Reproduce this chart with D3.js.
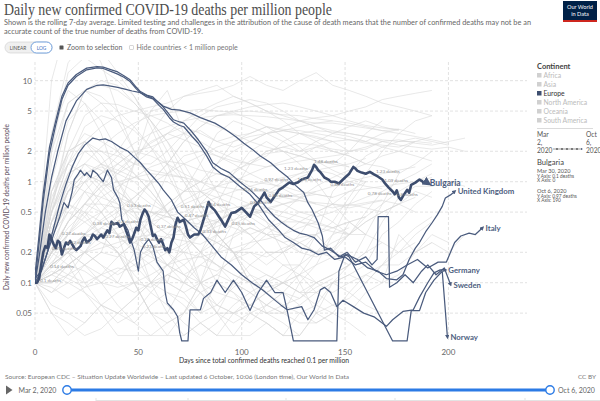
<!DOCTYPE html>
<html><head><meta charset="utf-8">
<script src="https://cdn.jsdelivr.net/npm/d3@7"></script>
<style>body{margin:0;background:#fff;} svg{display:block;font-family:Lato,"Noto Sans",sans-serif;}</style>
</head><body><svg id="c" width="600" height="401"></svg>
<script>
// ---------------- DATA ----------------
const yTicks = [0.05, 0.1, 0.2, 0.5, 1, 2, 5, 10];
const yTickLabels = ["0.05", "0.1", "0.2", "0.5", "1", "2", "5", "10"];
const xTicks = [0, 50, 100, 150, 200];
const xTickLabels = ["0", "50", "100", "150", "200"];
const continents = ["Africa", "Asia", "Europe", "North America", "Oceania", "South America"];
const activeContinent = "Europe";

const bulgaria = [[0,0.1],[1,0.1],[2,0.11],[3,0.15],[4,0.2],[5,0.23],[6,0.22],[7,0.3],[8,0.27],[9,0.24],[10,0.22],[11,0.26],[12,0.25],[13,0.19],[14,0.22],[15,0.25],[16,0.24],[17,0.26],[18,0.24],[19,0.22],[20,0.21],[22,0.23],[23,0.26],[24,0.28],[25,0.25],[27,0.27],[28,0.3],[29,0.29],[30,0.27],[32,0.3],[33,0.28],[35,0.33],[36,0.31],[37,0.4],[38,0.38],[40,0.39],[41,0.36],[43,0.38],[44,0.33],[45,0.29],[46,0.25],[47,0.27],[49,0.35],[50,0.33],[51,0.42],[52,0.48],[53,0.53],[54,0.5],[55,0.45],[56,0.36],[57,0.29],[58,0.3],[59,0.27],[60,0.25],[61,0.27],[62,0.24],[63,0.21],[64,0.22],[65,0.2],[66,0.25],[67,0.28],[68,0.38],[69,0.44],[70,0.4],[72,0.42],[73,0.36],[74,0.3],[75,0.28],[77,0.3],[79,0.3],[80,0.33],[82,0.45],[84,0.63],[85,0.57],[87,0.52],[89,0.45],[90,0.42],[92,0.36],[93,0.4],[95,0.49],[97,0.5],[100,0.55],[102,0.5],[104,0.45],[106,0.57],[108,0.62],[110,0.72],[111,0.78],[112,0.7],[114,0.63],[116,0.72],[118,0.83],[120,0.88],[123,0.98],[125,0.95],[127,0.98],[129,1.05],[132,1.1],[134,1.3],[135,1.47],[136,1.4],[137,1.3],[138,1.25],[140,1.1],[142,1.05],[143,1.0],[145,1.0],[147,0.96],[149,1.05],[150,1.1],[152,1.2],[154,1.4],[155,1.35],[156,1.28],[158,1.23],[160,1.2],[162,1.25],[164,1.18],[166,1.12],[168,1.05],[169,0.98],[171,0.88],[173,0.8],[174,0.75],[175,0.82],[176,0.7],[177,0.66],[178,0.72],[180,0.83],[181,0.78],[182,0.93],[184,0.98],[186,1.05],[187,1.02],[188,0.98],[189,1.0],[190,0.97]];

const unitedKingdom = [[0,0.12],[2,0.3],[4,0.77],[7,2.2],[10,4],[13,7],[16,9.5],[20,11.5],[25,13.3],[30,13.8],[33,13.6],[37,12.8],[40,12.2],[43,11.2],[46,10.2],[49,8.6],[51,7.8],[54,7.2],[57,6.9],[60,6.0],[62,5.5],[65,4.6],[67,4.1],[70,3.9],[72,3.8],[76,3.1],[79,2.6],[83,2.0],[86,1.54],[90,1.35],[94,1.23],[99,1.0],[104,0.83],[109,0.66],[112,0.55],[116,0.45],[119,0.4],[122,0.36],[125,0.33],[128,0.31],[131,0.3],[135,0.28],[139,0.23],[143,0.21],[148,0.18],[151,0.19],[156,0.17],[161,0.14],[166,0.13],[170,0.11],[175,0.107],[178,0.12],[181,0.17],[184,0.22],[186,0.25],[189,0.32],[192,0.39],[194.6,0.47],[197,0.57],[198.5,0.69],[201,0.74],[203,0.8]];

const italy = [[0,0.1],[2,0.25],[4,0.65],[7,1.9],[10,3.6],[13,6.5],[16,9],[20,11],[25,12.8],[30,13.4],[33,13.2],[37,12.3],[40,11.6],[43,10.8],[46,9.8],[49,8.3],[51,7.6],[54,6.9],[57,6.6],[60,5.7],[62,5.2],[65,4.3],[67,3.9],[70,3.6],[72,3.5],[76,2.8],[79,2.4],[83,1.8],[86,1.4],[90,1.2],[94,1.1],[99,0.9],[104,0.75],[108,0.6],[110,0.52],[113,0.42],[118,0.33],[121,0.28],[125,0.25],[129,0.22],[133,0.21],[137,0.19],[141,0.2],[145,0.17],[150,0.18],[155,0.15],[160,0.16],[165,0.13],[170,0.12],[175,0.13],[180,0.15],[185,0.17],[190,0.14],[195,0.16],[199,0.16],[201,0.2],[203,0.25],[206,0.29],[210,0.31],[213,0.3],[216.5,0.35]];

const sweden = [[0,0.1],[2,0.18],[5,0.5],[8,1.1],[11,2.0],[15,4],[20,6.3],[25,8.2],[30,9.0],[33,9.1],[36,8.9],[40,8.6],[44,8.2],[47,7.9],[51,7.6],[55,7.0],[58,6.5],[62,5.6],[66,5.2],[70,5.1],[75,4.8],[80,4.3],[87,3.8],[92,3.3],[97,2.8],[101,2.4],[105,2.1],[109,1.8],[114,1.54],[118,1.3],[122,1.12],[126,0.92],[130,0.78],[132,0.62],[134,0.53],[137,0.39],[139,0.29],[140,0.21],[143,0.22],[147,0.18],[151,0.2],[155,0.16],[160,0.18],[163,0.15],[165.5,0.17],[166,0.45],[171,0.45],[171.5,0.09],[175,0.1],[179,0.12],[183,0.1],[187,0.13],[190,0.15],[194,0.12],[198,0.14],[201,0.096]];

const germany = [[0,0.1],[3,0.13],[6,0.2],[9,0.35],[12,0.6],[15,0.95],[18,1.4],[21,1.9],[24,2.3],[27,2.6],[28,2.7],[31,2.6],[34,2.65],[37,2.5],[41,2.2],[45,2.0],[48,1.75],[51,1.54],[54,1.3],[57,1.12],[60,0.95],[62,0.83],[66,0.66],[69,0.5],[73,0.42],[77,0.35],[81,0.3],[85,0.24],[90,0.18],[95,0.15],[100,0.12],[105,0.1],[110,0.085],[115,0.07],[119,0.06],[122,0.054],[129,0.058],[132,0.043],[135,0.054],[138,0.085],[140,0.09],[143,0.08],[146,0.058],[149,0.067],[154,0.058],[159,0.05],[164,0.046],[170,0.037],[173,0.043],[178,0.052],[183,0.054],[186,0.072],[190,0.1],[193,0.125],[196,0.134],[198.5,0.134]];

const norway = [[0,0.11],[3,0.13],[6,0.2],[9,0.3],[12,0.45],[14,0.62],[16,0.55],[18,0.8],[19,1.05],[21,1.2],[22,1.3],[24,1.15],[25,1.23],[27,1.1],[28,1.3],[30,1.2],[31,1.12],[33,1.0],[35,1.3],[37,1.1],[38,0.83],[40,0.7],[41,0.62],[42,0.42],[44,0.36],[45,0.33],[46,0.28],[48,0.21],[50,0.13],[51,0.2],[53,0.24],[55,0.27],[57,0.23],[59,0.16],[62,0.13],[63,0.08],[64,0.063],[67,0.054],[69,0.046],[70,0.032],[71,0.0265],[74,0.0265],[75,0.054],[80,0.054],[81.5,0.07],[85,0.08],[88,0.106],[92,0.08],[96,0.106],[100,0.08],[104,0.053],[108,0.08],[112,0.106],[116,0.08],[120,0.08],[122,0.053],[125,0.0265],[146,0.0265],[147,0.13],[150,0.19],[152,0.18],[173,0.0265],[180,0.0265],[182,0.053],[186,0.053],[189,0.08],[193,0.106],[197,0.13],[199.5,0.029]];

const highlightedNames = ["United Kingdom", "Italy", "Sweden", "Germany", "Norway"];
const highlightedSeries = [unitedKingdom, italy, sweden, germany, norway];

// Bulgaria point annotations: [day, value, text]
const bulgariaNotes = [[2.4,0.101,"0.1 deaths"],[7.3,0.14,"0.14 deaths"],[8.2,0.21,"0.21 deaths"],[13,0.3,"0.27 deaths"],[15.5,0.24,"0.22 deaths"],[28,0.37,"0.38 deaths"],[34,0.28,"0.27 deaths"],[40,0.39,"0.4 deaths"],[44.5,0.56,"0.53 deaths"],[51,0.26,"0.21 deaths"],[52,0.22,"0.23 deaths"],[59,0.35,"0.37 deaths"],[70.5,0.55,"0.51 deaths"],[72.5,0.45,"0.47 deaths"],[83,0.58,"0.64 deaths"],[81,0.31,"0.33 deaths"],[95,0.37,"0.25 deaths"],[104,0.6,"0.6 deaths"],[101,0.81,"0.76 deaths"],[111,1.02,"0.97 deaths"],[113,0.7,"0.86 deaths"],[120.5,1.3,"1.23 deaths"],[127,1.02,"1.16 deaths"],[135,1.53,"1.48 deaths"],[143,0.91,"0.86 deaths"],[165,1.22,"1.23 deaths"],[169,1.0,"1.09 deaths"],[161,0.74,"0.78 deaths"],[175,0.72,"0.8 deaths"]];

// Background countries (grey): values sampled every grayStepDays days from day 0
const grayStepDays = 8;
const grayLines = [
 [0.1,0.4,1.2,2.5,3.5,4.5,5,5.5,6,7,7.5,8,9,11,9,8,10,12,9,8,7,6,5.5,5,4.5],
 [0.1,0.2,0.3,0.4,0.5,0.8,1.5,3,5,7,8,9,7,6,5,4.5,4,3.5,3.2,3,2.8,2.6,2.5,2.5,2.4],
 [0.1,0.3,0.8,1.5,2.2,3,3.8,4.5,4.8,5,5.2,5,4.9,5,4.8,4.6,4.5,4.2,4,3.8,3.5,3.2,3,2.8,2.6,2.4],
 [0.1,0.2,0.4,0.8,1.2,1.8,2.4,3,3.5,4,4.3,4.5,4.6,4.5,4.4,4.2,4,3.8,3.8,3.6,3.4,3.2,3.3,3],
 [0.1,0.3,1,2,1.5,1.2,1.5,2,3,4,5,6,7,6,5,4,3,2.5,2,1.8,1.5,1.4,1.2],
 [0.1,0.6,2,4.5,6,5.8,5,4.5,3.8,3,2.5,2,1.7,1.5,1.8,2.5,3,3.2,3.1,3,2.8,2.5,2.3,2.2,2.1,2.2,2],
 [0.1,0.12,0.15,0.2,0.25,0.22,0.3,0.4,0.6,0.8,1,1.5,2,2.5,3,3.5,4,4.3,4.5,5,5.5,6.5,7,7.5,8],
 [0.1,0.15,0.2,0.3,0.4,0.5,0.7,1,1.5,2.5,3.5,4.5,5,5.5,5.8,6,5.5,5,4.5,4,3.6,3.4,3.3],
 [0.1,0.8,1.5,2,2,1.8,1.5,1.5,2,3,4.5,5.5,6,6.5,6,5,4,3.5,3,2.8,2.5,2.2,2,1.8,1.6],
 [0.1,3,15,25,20,12,7,3.5,1.5,0.6,0.3,0.25,0.2,0.2,0.15,0.2,0.3,0.5,0.4,0.3,0.5,0.8,1.0,1.2,1.5],
 [0.1,2,12,17,13,10,7,4,2.5,1.2,0.6,0.3,0.2,0.1,0.08,0.1,0.15,0.3,0.8,1.2,1.8,2.2,2.5,2.7,2.5,2.3],
 [0.1,0.5,3,8,10,9,6,4,2.5,1.5,0.8,0.6,0.4,0.3,0.2,0.15,0.15,0.1,0.12,0.15,0.2,0.4,0.7,0.9,0.9,1.0,0.9],
 [0.1,1.5,6,8,7,5,3.5,2.2,1.2,0.6,0.4,0.3,0.2,0.12,0.08,0.06,0.05,0.06,0.1,0.12,0.15,0.3,0.4,0.6,0.8],
 [0.1,0.6,3,8,9,8,6,4,2,1,0.6,0.3,0.2,0.1,0.05,0.04,0.03,0.05,0.1,0.08,0.12,0.1,0.3,0.2,0.25],
 [0.1,2,6,8,6,4,2,1,0.5,0.3,0.1,0.05,0.04,0.05,0.06,0.08,0.07,0.1,0.08,0.1,0.12,0.15,0.15,0.2,0.25,0.2,0.3],
 [0.1,0.2,0.6,1.2,1.5,1.3,1.1,1,1,0.8,0.8,0.9,1,1.2,1.4,1.6,1.8,2.2,2.5,2.6,2.4,2.3,2.2,2.5,2.8],
 [0.1,0.3,0.6,1,1.2,1.5,2,2.2,2.6,3,3.2,2.5,2.8,3,3.5,3.3,3.2,3,2.8,2.6,2.5,3,3.3],
 [0.1,0.15,0.3,0.6,0.9,1,1.1,1.2,1.15,1.1,1.0,0.9,0.85,0.8,0.8,0.75,0.7,0.75,0.7,0.8,0.85,0.9,0.95,1.0,1.1],
 [0.1,0.5,1.2,1.5,1.1,0.8,0.6,0.5,0.5,0.6,0.7,0.9,1.3,1.5,2,2.2,2.4,2.3,2.1,2,2.1,2.5,2.6,2.4,2.3,2.5,2.7],
 [0.1,0.6,1.8,3,2.5,2,1.5,1.3,1.2,1.1,0.8,0.6,0.5,0.5,0.5,0.4,0.3,0.3,0.2,0.3,0.4,0.5,0.6,0.8,0.7],
 [0.1,0.5,1.5,2.5,2,1.5,1.2,0.8,0.5,0.3,0.2,0.1,0.08,0.05,0.04,0.03,0.03,0.05,0.06,0.05,0.08,0.1,0.12,0.2,0.3,0.25],
 [0.1,0.8,2,2.5,1.8,1,0.6,0.4,0.3,0.2,0.1,0.06,0.05,0.06,0.08,0.1,0.12,0.08,0.06,0.07,0.1,0.15,0.2,0.3,0.4],
 [0.1,0.2,0.4,0.6,0.6,0.55,0.5,0.5,0.45,0.4,0.45,0.4,0.35,0.3,0.35,0.4,0.4,0.38,0.35,0.4,0.45,0.6,0.8,1.0,1.2],
 [0.1,0.3,0.8,1.2,1.4,1.2,1,0.7,0.5,0.3,0.2,0.15,0.1,0.08,0.06,0.05,0.06,0.08,0.1,0.15,0.3,0.6,1.2,1.5,2.0],
 [0.1,0.2,0.4,0.6,0.5,0.3,0.2,0.15,0.1,0.08,0.1,0.12,0.1,0.15,0.2,0.2,0.25,0.3,0.4,0.7,1.2,2,3,4,4.5],
 [0.1,0.5,1.2,1.5,1.3,1,0.8,0.6,0.5,0.8,1.5,3,4,3.5,3,2.5,2,2.2,2,1.8,1.5,1.8,2,2.5],
 [0.1,0.4,0.8,1.2,1,0.8,0.6,0.4,0.3,0.3,0.4,0.6,1.2,2,2.5,2,1.5,1,0.6,0.4,0.3,0.25,0.2,0.25],
 [0.1,0.3,0.8,1.2,1,0.7,0.5,0.3,0.2,0.12,0.08,0.05,0.03,0.03,0.04,0.03,0.05,0.04,0.05,0.08,0.06,0.05],
 [0.1,0.2,0.3,0.3,0.25,0.2,0.15,0.1,0.08,0.06,0.04,0.03,0.05,0.04,0.06,0.08,0.12,0.2,0.25,0.3,0.4,0.5,0.6,0.5],
 [0.1,0.1,0.15,0.2,0.3,0.4,0.6,1,1.5,2.5,3.5,4.5,4.8,4.2,3.5,2.8,2.2,1.6,1.3,1.1,1.0],
 [0.1,0.12,0.15,0.2,0.22,0.25,0.28,0.3,0.35,0.4,0.45,0.5,0.55,0.6,0.65,0.7,0.75,0.8],
 [0.1,0.15,0.2,0.3,0.5,0.7,0.6,0.5,0.4,0.3,0.2,0.15,0.12,0.1,0.12,0.1,0.08,0.1,0.12],
 [0.1,0.1,0.12,0.15,0.1,0.06,0.04,0.03,0.03,0.05,0.08,0.1,0.08,0.06,0.05,0.05,0.04,0.04,0.05,0.04,0.03],
 [0.1,0.15,0.2,0.15,0.12,0.1,0.08,0.1,0.15,0.2,0.3,0.4,0.5,0.6,0.7,0.6,0.5,0.5,0.6,0.55,0.6,0.65,0.6],
 [0.1,0.5,1.5,3.5,4.5,4,3.2,2.2,1.5,1,0.5,0.3,0.2,0.15,0.12,0.1,0.08,0.08,0.1,0.12,0.1,0.15,0.25,0.35,0.45],
 [0.1,0.2,0.4,0.6,1,1.5,2,1.8,1.5,1.2,1,0.8,0.7,0.6,0.55,0.5,0.45,0.4,0.35,0.3],
 [0.1,0.5,1,0.8,0.5,0.3,0.1,0.05,0.04,0.05,0.1,0.3,0.8,1.5,2,2.2,2,2.5,3,3.5,4,3.5,3.2],
 [0.1,0.3,0.6,1,1.5,2,3.5,5,5.5,5,4,3.5,3,2.5,2.2,2,1.8,1.6,1.5,2,3,4],
 [0.1,0.4,0.8,1,0.6,0.4,0.2,0.1,0.1,0.3,0.8,1.5,2.5,3,3.5,3.2,3,2.8,2.5,2,2.2,2.5],
 [0.1,3,8,6,3,1,0.5,0.2,0.1,0.08,0.05,0.1,0.3,0.5,0.4,0.3,0.2,0.3,0.2,0.4,0.3],
 [0.1,10,40,30,15,5,2,1,0.5,0.3,0.2,0.3,0.2,0.1],
 [0.1,0.1,0.15,0.2,0.15,0.1,0.2,0.5,1.2,1.8,2,1.8,1.6,1.5,1.4,1.5,1.6,1.7,1.8,1.9],
 [0.1,0.12,0.15,0.13,0.1,0.09,0.1,0.12,0.15,0.17,0.18,0.2,0.22,0.25,0.27,0.3,0.35,0.4],
 [0.1,0.2,0.15,0.08,0.05,0.03,0.03,0.03,0.04,0.05,0.1,0.2,0.4,0.6,0.4,0.2,0.1,0.05,0.04],
 [0.1,0.3,0.5,0.4,0.3,0.2,0.1,0.05,0.05,0.1,0.2,0.4,0.5,0.4,0.3,0.3,0.4,0.5,0.6,0.8,1.0],
 [0.1,0.8,2,2.5,1.5,0.8,0.3,0.1,0.05,0.03,0.04,0.05,0.1,0.08,0.06,0.05,0.1,0.15,0.3,0.6,1.0],
 [0.1,0.4,0.6,0.5,0.3,0.2,0.1,0.05,0.03,0.03,0.04,0.03,0.03,0.05,0.04,0.03,0.03],
 [0.1,0.15,0.2,0.3,0.3,0.35,0.4,0.4,0.45,0.5,0.6,0.7,0.8,0.9,1.0,1.1,1.2,1.3,1.4,1.5,1.7],
 [0.1,0.15,0.2,0.15,0.2,0.5,1.5,5,8,3,1.5,0.8,0.4,0.3,0.2,0.2,0.25],
 [0.1,0.2,0.3,0.5,0.8,1.2,1.8,2.5,3,3.5,3,2.5,2.2,2.5,3,3.2,3.5,3.8,4],
 [0.1,0.08,0.1,0.15,0.2,0.18,0.25,0.3,0.28,0.35,0.3,0.25,0.2,0.22,0.3,0.4,0.5,0.45,0.5,0.6,0.55,0.5,0.6,0.7],
 [0.1,0.12,0.1,0.08,0.06,0.05,0.07,0.1,0.12,0.15,0.2,0.25,0.3,0.35,0.3,0.25,0.28,0.3,0.35,0.4,0.45],
 [0.1,0.2,0.35,0.5,0.4,0.3,0.35,0.45,0.6,0.8,1.0,1.2,1.1,0.9,0.8,0.7,0.65,0.6,0.55,0.6,0.7,0.8],
 [0.1,0.15,0.12,0.1,0.12,0.18,0.25,0.35,0.5,0.65,0.8,0.7,0.6,0.45,0.35,0.3,0.25,0.2,0.18,0.15],
 [0.1,0.3,0.2,0.1,0.06,0.04,0.05,0.08,0.12,0.1,0.08,0.06,0.05,0.07,0.1,0.15,0.12,0.1,0.12,0.15,0.2,0.25],
 [0.1,0.06,0.05,0.04,0.06,0.08,0.1,0.09,0.12,0.1,0.15,0.13,0.17,0.2,0.18,0.22,0.25,0.2,0.22],
 [0.1,0.18,0.3,0.45,0.7,0.9,1.1,1.4,1.6,1.5,1.3,1.2,1.1,1.0,0.95,0.9,0.8,0.75,0.7],
 [0.1,0.25,0.5,0.8,0.7,0.6,0.45,0.3,0.2,0.15,0.1,0.12,0.18,0.25,0.35,0.5,0.7,0.9,1.1,1.3,1.5],
 [0.1,0.05,0.03,0.04,0.06,0.05,0.04,0.06,0.08,0.07,0.05,0.06,0.09,0.12,0.1,0.08,0.06],
 [0.1,0.14,0.2,0.28,0.35,0.45,0.55,0.5,0.45,0.4,0.38,0.42,0.5,0.6,0.75,0.9,1.1,1.3,1.2,1.0,0.9,0.85],
 [0.1,0.4,0.9,1.3,0.9,0.6,0.4,0.25,0.15,0.12,0.15,0.2,0.28,0.35,0.3,0.25,0.2,0.18,0.22,0.3,0.45],
 [0.1,0.08,0.12,0.2,0.35,0.3,0.25,0.2,0.22,0.2,0.18,0.15,0.12,0.1,0.09,0.1,0.12,0.15,0.18,0.2],
 [0.1,0.2,0.25,0.2,0.15,0.12,0.15,0.2,0.3,0.45,0.6,0.9,1.2,1.6,1.9,2.0,1.8,1.6,1.5,1.4],
 [0.1,0.35,0.6,0.45,0.3,0.2,0.12,0.08,0.06,0.04,0.03,0.04,0.06,0.08,0.1,0.12,0.15,0.2,0.3,0.35],
 [0.1,0.12,0.18,0.25,0.3,0.28,0.22,0.18,0.15,0.12,0.1,0.08,0.07,0.06,0.05,0.06,0.07,0.09,0.11],
 [0.1,0.16,0.22,0.3,0.42,0.55,0.7,0.95,1.2,1.5,1.8,2.2,2.5,2.8,3.0,3.2,3.0,2.7,2.5],
 [0.1,0.7,1.5,1.2,0.8,0.5,0.3,0.2,0.15,0.1,0.08,0.05,0.05,0.06,0.08,0.1,0.08,0.06,0.05],
 [0.1,0.09,0.07,0.09,0.12,0.14,0.13,0.16,0.2,0.24,0.3,0.36,0.42,0.48,0.55,0.6,0.65,0.62,0.6,0.58,0.62,0.66],
 [0.1,0.22,0.4,0.6,0.9,1.3,1.8,2.4,3.0,2.6,2.2,1.8,1.5,1.2,1.0,0.85,0.7,0.6],
 [0.1,0.05,0.04,0.03,0.035,0.05,0.07,0.1,0.15,0.22,0.3,0.4,0.5,0.55,0.5,0.45,0.4,0.35,0.32,0.3,0.3],
 [0.1,0.13,0.11,0.09,0.1,0.13,0.17,0.22,0.28,0.26,0.24,0.3,0.38,0.46,0.52,0.6,0.68,0.8,0.9,1.0,1.1,1.2,1.3,1.4],
 [0.1,1,4,6,4,2,1.2,0.8,0.5,0.4,0.35,0.4,0.5,0.6,0.8,1.0,1.2,1.5,1.6,1.4]
];

// ---------------- DRAW ----------------
const svg = d3.select("#c");
svg.append("rect").attr("width",600).attr("height",401).attr("fill","#fff");

const x = d3.scaleLinear().domain([0, 238]).range([35, 527]);
const y = d3.scaleLog().domain([0.0259, 15.3]).range([342, 62]);

// Header
svg.append("text").attr("x",4).attr("y",15).attr("textLength",328).attr("lengthAdjust","spacingAndGlyphs")
  .style("font-family","'Liberation Serif','DejaVu Serif',serif").style("font-size","16px").attr("fill","#4d4d4d")
  .text("Daily new confirmed COVID-19 deaths per million people");
svg.append("text").attr("x",4).attr("y",24.5).attr("textLength",527).attr("lengthAdjust","spacingAndGlyphs")
  .style("font-size","7.3px").attr("fill","#666")
  .text("Shown is the rolling 7-day average. Limited testing and challenges in the attribution of the cause of death means that the number of confirmed deaths may not be an");
svg.append("text").attr("x",4).attr("y",33.5).attr("textLength",199).attr("lengthAdjust","spacingAndGlyphs")
  .style("font-size","7.3px").attr("fill","#666")
  .text("accurate count of the true number of deaths from COVID-19.");

// logo
const logo = svg.append("g");
logo.append("rect").attr("x",563).attr("y",1).attr("width",34).attr("height",21).attr("fill","#002147");
logo.append("rect").attr("x",563).attr("y",20).attr("width",34).attr("height",2).attr("fill","#ce261e");
logo.append("text").attr("x",580).attr("y",9).attr("text-anchor","middle").attr("fill","#fff").style("font-size","5.6px").text("Our World");
logo.append("text").attr("x",580).attr("y",16).attr("text-anchor","middle").attr("fill","#fff").style("font-size","5.6px").text("in Data");

// controls
const ctr = svg.append("g");
ctr.append("rect").attr("x",5).attr("y",42).attr("width",47).attr("height",11).attr("rx",5.5).attr("fill","#f0f0f0").attr("stroke","#ccc").attr("stroke-width",0.6);
ctr.append("rect").attr("x",31).attr("y",42).attr("width",21).attr("height",11).attr("rx",5.5).attr("fill","#fff").attr("stroke","#4f8ad6").attr("stroke-width",0.8);
ctr.append("text").attr("x",18).attr("y",49.5).attr("text-anchor","middle").style("font-size","4.8px").attr("fill","#555").text("LINEAR");
ctr.append("text").attr("x",41.5).attr("y",49.5).attr("text-anchor","middle").style("font-size","4.8px").attr("fill","#3b6fbf").text("LOG");
ctr.append("rect").attr("x",59.5).attr("y",45.5).attr("width",4).attr("height",4).attr("fill","#555").attr("rx",0.6);
ctr.append("text").attr("x",67).attr("y",50).style("font-size","7px").attr("fill","#666").text("Zoom to selection");
ctr.append("rect").attr("x",129.5).attr("y",45.5).attr("width",4).attr("height",4).attr("fill","#fff").attr("stroke","#bbb").attr("stroke-width",0.6).attr("rx",0.6);
ctr.append("text").attr("x",136.5).attr("y",50).style("font-size","7px").attr("fill","#777").text("Hide countries < 1 million people");

// grid
const grid = svg.append("g");
grid.selectAll("line.h").data(yTicks).join("line").attr("class","h")
  .attr("x1",35).attr("x2",527).attr("y1",d=>y(d)).attr("y2",d=>y(d))
  .attr("stroke","#d5d5d5").attr("stroke-width",0.7).attr("stroke-dasharray","3,2");
grid.selectAll("line.v").data(xTicks).join("line").attr("class","v")
  .attr("y1",62).attr("y2",342).attr("x1",d=>x(d)).attr("x2",d=>x(d))
  .attr("stroke","#d5d5d5").attr("stroke-width",0.7).attr("stroke-dasharray","3,2");

// axis labels
svg.append("g").selectAll("text").data(yTicks).join("text")
  .attr("x",32).attr("y",d=>y(d)+3).attr("text-anchor","end").style("font-size","8px").attr("fill","#666")
  .text((d,i)=>yTickLabels[i]);
svg.append("g").selectAll("text").data(xTicks).join("text")
  .attr("x",d=>x(d)).attr("y",355).attr("text-anchor","middle").style("font-size","8px").attr("fill","#666")
  .text((d,i)=>xTickLabels[i]);
svg.append("text").attr("transform","translate(9,207) rotate(-90)").attr("text-anchor","middle")
  .style("font-size","6.6px").attr("fill","#5a4a5a").text("Daily new confirmed COVID-19 deaths per million people");
svg.append("text").attr("x",264).attr("y",363).attr("text-anchor","middle").style("font-size","6.8px").attr("fill","#333")
  .text("Days since total confirmed deaths reached 0.1 per million");

// clip
svg.append("defs").append("clipPath").attr("id","plotclip").append("rect")
  .attr("x",35).attr("y",60).attr("width",492).attr("height",284);
const defs = svg.select("defs");
defs.append("marker").attr("id","arr").attr("viewBox","0 0 10 10").attr("refX",5).attr("refY",5)
  .attr("markerWidth",3.5).attr("markerHeight",3.5).attr("orient","auto-start-reverse")
  .append("path").attr("d","M0,0L10,5L0,10z").attr("fill","#4a5b7d");

const plot = svg.append("g").attr("clip-path","url(#plotclip)");
const line = d3.line().x(d=>x(d[0])).y(d=>y(Math.max(d[1],0.0259)));

plot.selectAll("path.gray").data(grayLines).join("path").attr("class","gray")
  .attr("d", vals => line(vals.map((v,i)=>[i*grayStepDays, v])))
  .attr("fill","none").attr("stroke","#d9d9d9").attr("stroke-width",0.7).attr("stroke-opacity",0.85);

const darkColor = "#4a5b7d";
plot.selectAll("path.hl").data(highlightedSeries).join("path").attr("class","hl")
  .attr("d", line).attr("fill","none").attr("stroke",darkColor).attr("stroke-width",1.25)
  .attr("stroke-linejoin","round").attr("marker-end","url(#arr)");

plot.append("path").datum(bulgaria).attr("d",line).attr("fill","none").attr("stroke","#3d4d6e")
  .attr("stroke-width",2.6).attr("stroke-linejoin","round").attr("marker-end","url(#arr)");

svg.append("g").selectAll("text").data(bulgariaNotes).join("text")
  .attr("x",d=>x(d[0])).attr("y",d=>y(d[1])).style("font-size","4.6px").attr("fill","#8f8f8f").text(d=>d[2]);

// end labels
const endLabels = [["Bulgaria", bulgaria, 2, 3, "8.5px"]].concat(highlightedNames.map((n,i)=>[n, highlightedSeries[i], 3, 3, "7.8px"]));
svg.append("g").selectAll("text").data(endLabels).join("text")
  .attr("x",d=>x(d[1][d[1].length-1][0])+d[2])
  .attr("y",d=>y(Math.max(d[1][d[1].length-1][1],0.0259))+d[3])
  .style("font-size",d=>d[4]).style("font-weight","bold").attr("fill","#4d5e80").text(d=>d[0]);

// legend
const lg = svg.append("g");
lg.append("text").attr("x",537).attr("y",68.5).style("font-size","7.5px").style("font-weight","bold").attr("fill","#444").text("Continent");
continents.forEach((c,i)=>{
  const yy = 77.5 + i*9;
  const on = c===activeContinent;
  lg.append("rect").attr("x",537).attr("y",yy-4.5).attr("width",4.5).attr("height",4.5).attr("fill",on?"#3e4f70":"#d0d0d0");
  lg.append("text").attr("x",543.5).attr("y",yy).style("font-size","6.8px").attr("fill",on?"#333":"#bbb").text(c);
});
lg.append("line").attr("x1",537).attr("x2",593).attr("y1",128.5).attr("y2",128.5).attr("stroke","#ccc").attr("stroke-width",0.7);
[["Mar",137],["2,",145],["2020",153]].forEach(t=>lg.append("text").attr("x",537).attr("y",t[1]).style("font-size","6.6px").attr("fill","#555").text(t[0]));
[["Oct",137],["6,",145],["2020",153]].forEach(t=>lg.append("text").attr("x",586).attr("y",t[1]).style("font-size","6.6px").attr("fill","#555").text(t[0]));
lg.append("line").attr("x1",553).attr("x2",582).attr("y1",149).attr("y2",149).attr("stroke","#555").attr("stroke-width",0.6).attr("marker-end","url(#arr)");
[557,562,567,572,577].forEach(px=>lg.append("circle").attr("cx",px).attr("cy",149).attr("r",0.9).attr("fill","#555"));
lg.append("text").attr("x",537).attr("y",165).style("font-size","7.6px").attr("fill","#444").text("Bulgaria");
[["Mar 30, 2020",172.5,"5.6px"],["Y Axis: 0.1 deaths",177.5,"4.8px"],["X Axis: 0",182,"4.8px"],
 ["Oct 6, 2020",192.5,"5.6px"],["Y Axis: 0.97 deaths",197.5,"4.8px"],["X Axis: 190",202,"4.8px"]]
 .forEach(t=>lg.append("text").attr("x",537).attr("y",t[1]).style("font-size",t[2]).attr("fill","#555").text(t[0]));

// footer
svg.append("text").attr("x",5).attr("y",379).attr("textLength",344).attr("lengthAdjust","spacingAndGlyphs")
  .style("font-size","6.4px").attr("fill","#777")
  .text("Source: European CDC – Situation Update Worldwide – Last updated 6 October, 10:06 (London time), Our World In Data");
svg.append("text").attr("x",596).attr("y",379).attr("text-anchor","end").style("font-size","6.4px").attr("fill","#777").text("CC BY");

svg.append("path").attr("d","M6,385.5L12.5,390L6,394.5Z").attr("fill","#666");
svg.append("text").attr("x",18.5).attr("y",392.5).style("font-size","7px").attr("fill","#666").text("Mar 2, 2020");
svg.append("text").attr("x",558).attr("y",392.5).style("font-size","7px").attr("fill","#666").text("Oct 6, 2020");
svg.append("line").attr("x1",67).attr("x2",550).attr("y1",390).attr("y2",390).attr("stroke","#2c7be5").attr("stroke-width",3);
[67,550].forEach(px=>svg.append("circle").attr("cx",px).attr("cy",390).attr("r",4.2).attr("fill","#fff").attr("stroke","#2c7be5").attr("stroke-width",1.4));
svg.append("line").attr("x1",96).attr("x2",600).attr("y1",400.5).attr("y2",400.5).attr("stroke","#e3e3e3").attr("stroke-width",1);
[96,188,286,395,525].forEach(px=>svg.append("line").attr("x1",px).attr("x2",px).attr("y1",398).attr("y2",401).attr("stroke","#e3e3e3"));
</script></body></html>
